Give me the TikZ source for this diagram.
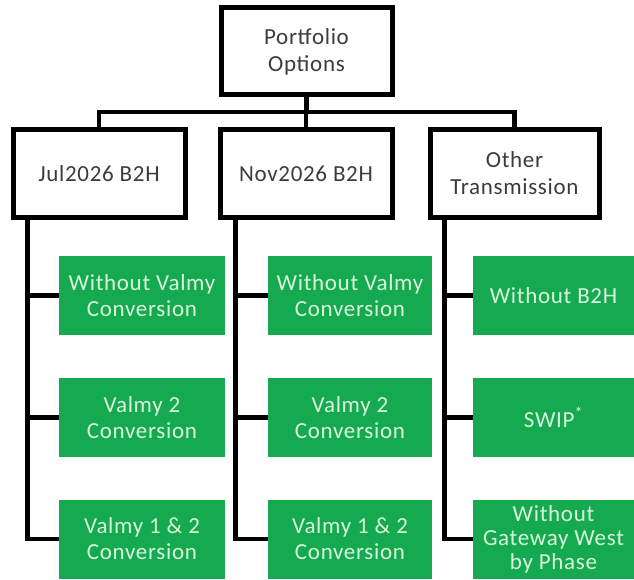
\documentclass[tikz,border=0pt]{standalone}
\usepackage{fontspec}
\setmainfont{Carlito}[LetterSpace=3]
\definecolor{optgreen}{RGB}{22,170,80}
\definecolor{opttext}{RGB}{214,245,220}
\definecolor{boxtext}{RGB}{60,60,60}
\begin{document}
\begin{tikzpicture}[x=1pt,y=-1pt]

    \tikzset{
      head/.style={
        draw=black,
        line width=5pt,
        fill=white,
        text=boxtext,
        align=center,
        inner sep=0pt,
        font=\fontsize{23}{27}\selectfont,
      },
      option/.style={
        fill=optgreen,
        text=opttext,
        align=center,
        inner sep=0pt,
        font=\fontsize{23}{26}\selectfont,
      },
      link/.style={
        draw=black,
        line width=4.5pt,
      },
    }
    \useasboundingbox (0,0) rectangle (634,580);
    % top of the tree
    \node[head, minimum width=171pt, minimum height=87pt] (root) at (306.5,51.5) {Portfolio\\Options};
    \node[head, minimum width=172pt, minimum height=88pt] (jul) at (99,173.5) {Jul2026 B2H};
    \node[head, minimum width=172pt, minimum height=88pt] (nov) at (306,173.5) {Nov2026 B2H};
    \node[head, minimum width=169pt, minimum height=88pt] (oth) at (514.5,173.5) {Other\\Transmission};
    \coordinate (bus) at (0,112);
    \draw[link] (root.south) -- (root.south |- bus);
    \draw[link] (jul.north) -- (jul.north |- bus) -- (oth.north |- bus) -- (oth.north);
    \draw[link] (nov.north) -- (nov.north |- bus);

    % options below each branch
    \node[option, minimum width=166pt, minimum height=79pt] (jul1) at (142,295.5) {Without Valmy\\Conversion};
    \node[option, minimum width=166pt, minimum height=79pt] (jul2) at (142,417.5) {Valmy 2\\Conversion};
    \node[option, minimum width=166pt, minimum height=79pt] (jul3) at (142,539) {Valmy 1 \& 2\\Conversion};
    \node[option, minimum width=164pt, minimum height=79pt] (nov1) at (350,295.5) {Without Valmy\\Conversion};
    \node[option, minimum width=164pt, minimum height=79pt] (nov2) at (350,417.5) {Valmy 2\\Conversion};
    \node[option, minimum width=164pt, minimum height=79pt] (nov3) at (350,539) {Valmy 1 \& 2\\Conversion};
    \node[option, minimum width=161pt, minimum height=79pt] (oth1) at (553.5,295.5) {Without B2H};
    \node[option, minimum width=161pt, minimum height=79pt] (oth2) at (553.5,417.5) {SWIP\textsuperscript{*}};
    \node[option, minimum width=161pt, minimum height=79pt, font=\fontsize{23}{24}\selectfont] (oth3) at (553.5,539) {Without\\Gateway West\\by Phase};

    \coordinate (jtrunk) at ([xshift=17pt]jul.south west);
    \coordinate (ntrunk) at ([xshift=18pt]nov.south west);
    \coordinate (otrunk) at ([xshift=17pt]oth.south west);
    \draw[link] (jtrunk) |- (jul3.west);
    \draw[link] (jtrunk |- jul1.west) -- (jul1.west);
    \draw[link] (jtrunk |- jul2.west) -- (jul2.west);
    \draw[link] (ntrunk) |- (nov3.west);
    \draw[link] (ntrunk |- nov1.west) -- (nov1.west);
    \draw[link] (ntrunk |- nov2.west) -- (nov2.west);
    \draw[link] (otrunk) |- (oth3.west);
    \draw[link] (otrunk |- oth1.west) -- (oth1.west);
    \draw[link] (otrunk |- oth2.west) -- (oth2.west);

\end{tikzpicture}
\end{document}
